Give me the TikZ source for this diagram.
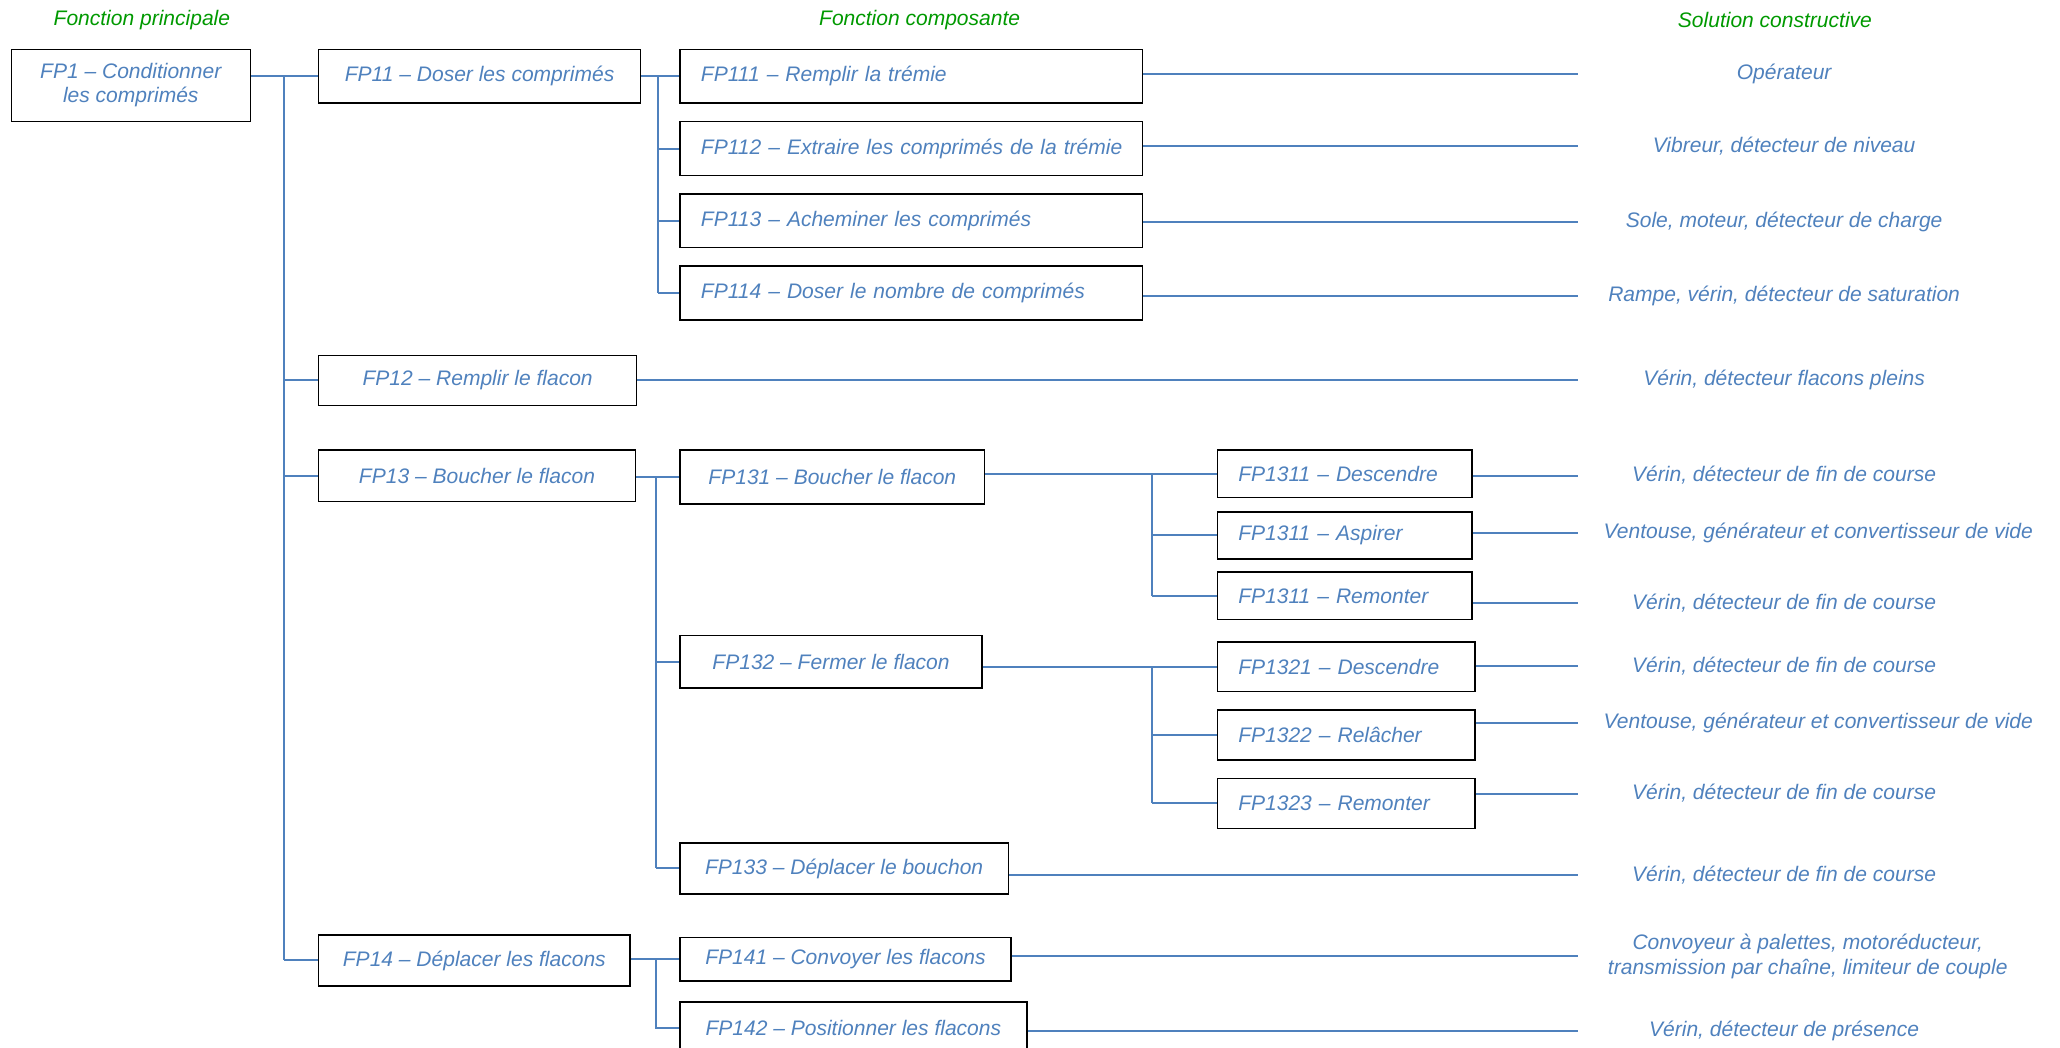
\documentclass[tikz,border=0pt]{standalone}
\usepackage{fontspec}
\setmainfont{Liberation Sans}
\definecolor{fpblue}{RGB}{79,129,189}
\definecolor{fpgreen}{RGB}{0,153,0}
\begin{document}
\begin{tikzpicture}[x=1pt,y=-1pt,
	every node/.style={font=\fontsize{16}{18.4}\selectfont\itshape},
	fbox/.style 2 args={draw=black,line width=1.1pt,text=fpblue,anchor=north west,
		inner sep=0pt,align=center,minimum width=#1pt,minimum height=#2pt},
	fboxl/.style 2 args={draw=black,line width=1.1pt,text=fpblue,anchor=north west,
		inner xsep=16pt,inner ysep=0pt,align=left,text width=#1pt,minimum height=#2pt},
	sol/.style={text=fpblue,align=center},
	head/.style={text=fpgreen},
	link/.style={draw=fpblue,line width=1.5pt}]
	\useasboundingbox (0,0) rectangle (1568,797);

	\node[head] (hp) at (108,15) {Fonction principale};
	\node[head] (hc) at (700,15) {Fonction composante};
	\node[head] (hs) at (1351,15) {Solution constructive};

	\node[fbox={182}{55}] (fp1) at (8,37) {FP1 -- Conditionner\\les comprimés};

	\node[fbox={245}{41}] (fp11) at (242,37) {FP11 -- Doser les comprimés};
	\node[fbox={242}{38}] (fp12) at (242,270) {FP12 -- Remplir le flacon};
	\node[fbox={241}{39}] (fp13) at (242,342) {FP13 -- Boucher le flacon};
	\node[fbox={237}{39}] (fp14) at (242,711) {FP14 -- Déplacer les flacons};

	\node[fboxl={320}{41}] (fp111) at (517,37) {FP111 -- Remplir la trémie};
	\node[fboxl={320}{41}] (fp112) at (517,92) {\mbox{FP112 -- Extraire les comprimés de la trémie}};
	\node[fboxl={320}{41}] (fp113) at (517,147) {FP113 -- Acheminer les comprimés};
	\node[fboxl={320}{41}] (fp114) at (517,202) {FP114 -- Doser le nombre de comprimés};

	\node[fbox={232}{41}] (fp131) at (517,342) {FP131 -- Boucher le flacon};
	\node[fbox={230}{40}] (fp132) at (517,483) {FP132 -- Fermer le flacon};
	\node[fbox={250}{39}] (fp133) at (517,641) {FP133 -- Déplacer le bouchon};
	\node[fbox={252}{33}] (fp141) at (517,713) {FP141 -- Convoyer les flacons};
	\node[fbox={264}{40}] (fp142) at (517,762) {FP142 -- Positionner les flacons};

	\node[fboxl={162}{36}] (fp1311) at (926,342) {FP1311 -- Descendre};
	\node[fboxl={162}{36}] (fp1312) at (926,389) {FP1311 -- Aspirer};
	\node[fboxl={162}{36}] (fp1313) at (926,435) {FP1311 -- Remonter};
	\node[fboxl={164}{38}] (fp1321) at (926,488) {FP1321 -- Descendre};
	\node[fboxl={164}{38}] (fp1322) at (926,540) {FP1322 -- Relâcher};
	\node[fboxl={164}{38}] (fp1323) at (926,592) {FP1323 -- Remonter};

	\node[sol] (s111) at (1358,56) {Opérateur};
	\node[sol] (s112) at (1358,111) {Vibreur, détecteur de niveau};
	\node[sol] (s113) at (1358,169) {Sole, moteur, détecteur de charge};
	\node[sol] (s114) at (1358,225) {Rampe, vérin, détecteur de saturation};
	\node[sol] (s12) at (1358,289) {Vérin, détecteur flacons pleins};
	\node[sol] (s1311) at (1358,362) {Vérin, détecteur de fin de course};
	\node[sol] (s1312) at (1384,406) {Ventouse, générateur et convertisseur de vide};
	\node[sol] (s1313) at (1358,459) {Vérin, détecteur de fin de course};
	\node[sol] (s1321) at (1358,507) {Vérin, détecteur de fin de course};
	\node[sol] (s1322) at (1384,550) {Ventouse, générateur et convertisseur de vide};
	\node[sol] (s1323) at (1358,604) {Vérin, détecteur de fin de course};
	\node[sol] (s133) at (1358,666) {Vérin, détecteur de fin de course};
	\node[sol] (s141) at (1376,728) {Convoyeur à palettes, motoréducteur,\\transmission par chaîne, limiteur de couple};
	\node[sol] (s142) at (1358,785) {Vérin, détecteur de présence};

	\coordinate (t1) at (216,0);
	\coordinate (t11) at (501,0);
	\coordinate (t13) at (499,0);
	\coordinate (t131) at (877,0);
	\coordinate (se) at (1201,0);

	\draw[link] (fp1.east |- fp11.west) -- (fp11.west);
	\draw[link] (t1 |- fp11.west) -- (t1 |- fp14.west);
	\foreach \b in {fp12,fp13,fp14}
		\draw[link] (t1 |- \b.west) -- (\b.west);

	\draw[link] (fp11.east |- fp111.west) -- (fp111.west);
	\draw[link] (t11 |- fp111.west) -- (t11 |- fp114.west);
	\foreach \b in {fp112,fp113,fp114}
		\draw[link] (t11 |- \b.west) -- (\b.west);

	\draw[link] (fp13.east |- fp131.west) -- (fp131.west);
	\draw[link] (t13 |- fp131.west) -- (t13 |- fp133.west);
	\foreach \b in {fp132,fp133}
		\draw[link] (t13 |- \b.west) -- (\b.west);

	\draw[link] (fp14.east |- fp141.west) -- (fp141.west);
	\draw[link] (t13 |- fp141.west) -- (t13 |- fp142.west) -- (fp142.west);

	\draw[link] (fp131.east |- fp1311.west) -- (fp1311.west);
	\draw[link] (t131 |- fp1311.west) -- (t131 |- fp1313.west);
	\foreach \b in {fp1312,fp1313}
		\draw[link] (t131 |- \b.west) -- (\b.west);

	\draw[link] (fp132.east |- fp1321.west) -- (fp1321.west);
	\draw[link] (t131 |- fp1321.west) -- (t131 |- fp1323.west);
	\foreach \b in {fp1322,fp1323}
		\draw[link] (t131 |- \b.west) -- (\b.west);

	\foreach \b/\s in {fp111/s111,fp112/s112,fp113/s113,fp114/s114,fp12/s12,
		fp1311/s1311,fp1312/s1312,fp1313/s1313,fp1321/s1321,fp1322/s1322,
		fp1323/s1323,fp133/s133,fp141/s141,fp142/s142}
		\draw[link] (\b.east |- \s) -- (se |- \s);
\end{tikzpicture}
\end{document}
